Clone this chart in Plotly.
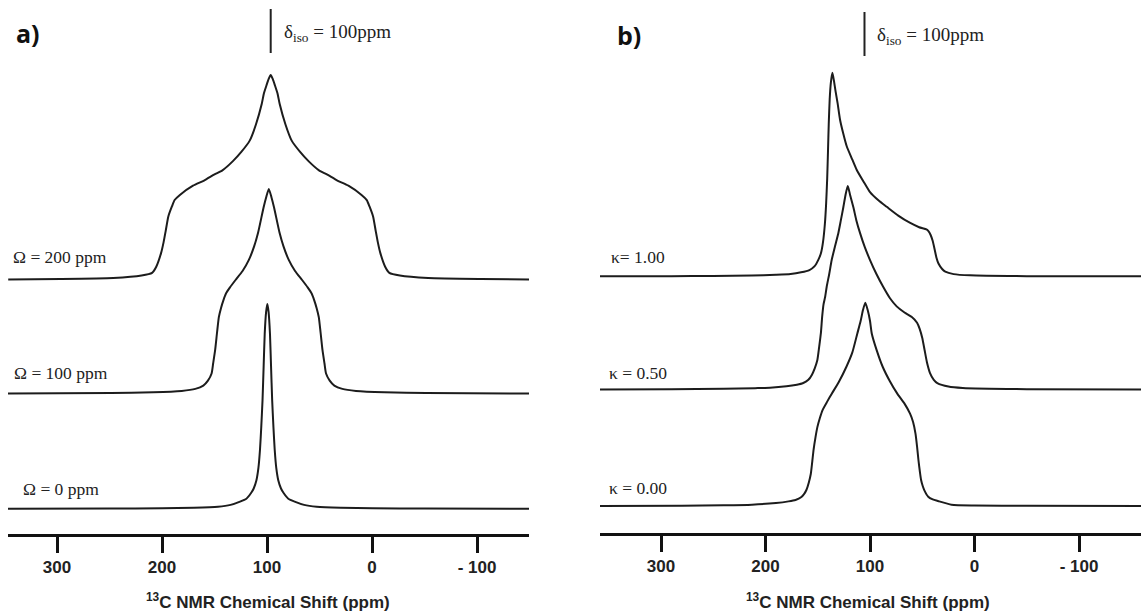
import plotly.graph_objects as go

W, H = 1141, 612

# ---------------- data (ppm, relative intensity %, peak = 100) ----------------
omega200_ppm = [346.5, 296.5, 246.5, 219.5, 209.5, 205.5, 201, 198.5, 196.5, 194, 190.5, 188, 183, 170.5,
                160, 150, 142.5, 132.5, 124.5, 116.5, 110.5, 105, 103, 100.5, 98.5, 96.5,
                94.5, 92.5, 90, 88, 82.5, 76.5, 68.5, 60.5, 50.5, 43, 33, 22.5, 10, 5, 2.5, -1,
                -3.5, -5.5, -8, -12.5, -16.5, -26.5, -53.5, -103.5, -149.5]
omega200_int = [0.3, 0.5, 1.0, 2.2, 3.5, 6.5, 13, 18.5, 24, 31, 36, 39, 41.5, 46,
                48.5, 51.5, 53.5, 58, 62.5, 68, 76, 86, 91, 95, 98, 100,
                98, 95, 91, 86, 76, 68, 62.5, 58, 53.5, 51.5, 48.5, 46, 41.5, 39, 36, 31,
                24, 18.5, 13, 6.5, 3.5, 2.2, 1.0, 0.5, 0.3]

omega100_ppm = [346.7, 248.3, 208.3, 181.3, 168.3, 160.7, 156.3, 152.8, 151.3, 149.4, 147.6, 145.9, 143.8,
                141.5, 139.1, 135.3, 130, 123.3, 117.3, 112.3, 108.6, 103.3, 100.8, 98.3,
                95.8, 93.3, 88, 84.3, 79.3, 73.3, 66.6, 61.3, 57.5, 55.1, 52.8, 50.7, 49, 47.2,
                45.3, 43.8, 40.3, 35.9, 28.3, 15.3, -11.7, -51.7, -149.5]
omega100_int = [0.2, 0.5, 0.8, 1.5, 2.5, 4.1, 6.5, 10, 15, 21.5, 30, 37.5, 42,
                45.8, 49, 52, 55.6, 60, 65.4, 72, 78.5, 91, 96, 100,
                96, 91, 78.5, 72, 65.4, 60, 55.6, 52, 49, 45.8, 42, 37.5, 30, 21.5,
                15, 10, 6.5, 4.1, 2.5, 1.5, 0.8, 0.5, 0.2]

omega0_ppm = [346.7, 249.7, 199.7, 169.7, 146.7, 134.7, 125.7, 119.7, 115.2, 112.7, 110.1, 108.2, 106.7,
              105.5, 104.3, 103.2, 102.2, 100.9, 99.7, 98.5, 97.2, 96.2, 95.1, 93.9, 92.7, 91.2,
              89.3, 86.7, 84.2, 79.7, 73.7, 64.7, 52.7, 29.7, -0.3, -50.3, -149.5]
omega0_int = [0.1, 0.2, 0.35, 0.6, 1.1, 2, 3.6, 5, 7.8, 10, 14, 20, 29,
              40, 53, 70, 85.5, 96, 100, 96, 85.5, 70, 53, 40, 29, 20,
              14, 10, 7.8, 5, 3.6, 2, 1.1, 0.6, 0.35, 0.2, 0.1]

kappa100_ppm = [358.4, 290, 250, 213, 190, 176, 166, 158, 153, 149.5, 147, 145, 143.2, 142, 141, 140.2,
                139.5, 138.6, 137.5, 136, 134.5, 133, 131, 128.7, 125.5, 122.3, 117, 112.8, 106, 100,
                92, 84, 73, 62, 53, 46, 44.3, 42, 40, 38, 36.5, 34.5, 31, 28, 20, 4.3, -50, -159.3]
kappa100_int = [0.2, 0.3, 0.4, 0.6, 1.0, 1.4, 2.2, 3.3, 5.2, 8.3, 11.5, 17, 26, 36, 48, 62,
                75, 87, 95, 100, 96, 91, 85, 77, 70, 64, 57.5, 52.5, 46.5, 41.5,
                37.5, 34.3, 30, 26.5, 24.3, 23.2, 22.5, 20.5, 17.5, 13, 9.5, 6.5, 3.8, 2.5, 1.3, 0.7, 0.3, 0.2]

kappa050_ppm = [358.4, 290, 240, 210, 195.7, 180, 170, 164.4, 159, 155.7, 153, 150.4, 148.7, 147, 145.8,
                144.5, 143, 141.5, 139, 136.7, 133.5, 130.3, 128, 125.5, 123.5, 121.3, 119, 116, 113,
                109.6, 105, 100, 94, 87.3, 80.9, 74.5, 67, 60, 55, 52.5, 50, 47.8, 45.5, 42.6, 39,
                35.6, 25, 11.3, -50, -159.3]
kappa050_int = [0.3, 0.4, 0.6, 0.9, 1.1, 1.8, 2.6, 3.3, 5, 7.4, 10.5, 14.7, 21, 28, 36,
                42, 45.5, 50.5, 57, 63.7, 70.5, 77, 83, 89.7, 95.5, 100, 95.5, 89.7, 83,
                77, 70, 63.7, 57, 50.5, 45, 41, 38, 35.8, 33, 30, 25.5, 19.6, 13.5, 8.3, 5,
                3.4, 1.7, 1.0, 0.4, 0.3]

kappa000_ppm = [358.4, 280, 240, 213, 190, 178, 171.3, 166, 163, 160.8, 158.5, 156.7, 155.3, 154, 152.2,
                150.4, 148, 145.3, 141, 136.6, 130, 122.6, 117, 112.2, 109, 106.7, 104.5, 102.3, 100,
                98.3, 93.5, 87.9, 81, 73.9, 67, 61.7, 58.8, 56.5, 55, 53.7, 52.4, 51.2, 49.5, 48,
                44.3, 40, 35, 22, 0, -50, -159.3]
kappa000_int = [0.3, 0.5, 0.7, 1.0, 1.8, 2.6, 3.3, 4.6, 6.3, 8.3, 12, 16, 22, 28, 34,
                39, 43.5, 47.5, 51.5, 55.4, 61, 68.6, 75.5, 84.8, 91, 96.5, 100, 96.5, 91,
                84.8, 76.5, 68.6, 61.5, 55.4, 50.5, 45.6, 41.5, 35.8, 29.5, 23, 17.5, 13.2, 10, 8,
                4.9, 3.6, 2.8, 1.0, 0.6, 0.4, 0.3]

omega_labels = ["Ω = 200 ppm", "Ω = 100 ppm", "Ω = 0 ppm"]
kappa_labels = ["κ= 1.00", "κ = 0.50", "κ = 0.00"]
tick_vals = [300, 200, 100, 0, -100]
tick_text = ["300", "200", "100", "0", "- 100"]
x_title = "<sup>13</sup>C NMR Chemical Shift (ppm)"
iso_text = "δ<sub>iso</sub> = 100ppm"
iso_pos_a, iso_pos_b = 96.5, 105.3

# ---------------- layout helpers ----------------
# stacking offsets (in intensity units) for each trace's baseline
offsets_a = [123.9, 68.3, 12.2]
offsets_b = [125.6, 70.1, 12.9]

LINE = dict(color="#1c1c1c", width=2, shape="spline", smoothing=0.55)

fig = go.Figure()
for ppm, inten, off in zip([omega200_ppm, omega100_ppm, omega0_ppm],
                           [omega200_int, omega100_int, omega0_int], offsets_a):
    fig.add_trace(go.Scatter(x=ppm, y=[v + off for v in inten], mode="lines", line=LINE,
                             xaxis="x", yaxis="y", showlegend=False, hoverinfo="skip"))
for ppm, inten, off in zip([kappa100_ppm, kappa050_ppm, kappa000_ppm],
                           [kappa100_int, kappa050_int, kappa000_int], offsets_b):
    fig.add_trace(go.Scatter(x=ppm, y=[v + off for v in inten], mode="lines", line=LINE,
                             xaxis="x2", yaxis="y2", showlegend=False, hoverinfo="skip"))

def py(ypx):
    return 1 - ypx / H

def px(xpx):
    return xpx / W

xcommon = dict(showline=True, linewidth=3, linecolor="#111", ticks="outside", ticklen=16,
               tickwidth=3, tickcolor="#111", tickvals=tick_vals, ticktext=tick_text,
               tickfont=dict(family="Liberation Sans", size=17, color="#222", weight="bold"),
               showgrid=False, zeroline=False, fixedrange=True)

fig.update_layout(
    width=W, height=H, margin=dict(l=0, r=0, t=0, b=0),
    paper_bgcolor="white", plot_bgcolor="white",
    xaxis=dict(domain=[px(8), px(529)], range=[346.7, -149.5], anchor="y", **xcommon),
    xaxis2=dict(domain=[px(600), 1.0], range=[358.4, -159.3], anchor="y2", **xcommon),
    yaxis=dict(domain=[py(534), 1], range=[0, 534 / 2.05], visible=False, fixedrange=True),
    yaxis2=dict(domain=[py(533), 1], range=[0, 533 / 2.04], visible=False, fixedrange=True),
)

ann = []
serif = dict(family="Liberation Serif", size=17.5, color="#222")
for lab, (xx, yy) in zip(omega_labels, [(11, 257), (12, 373), (21, 489)]):
    ann.append(dict(text=lab, x=px(xx), y=py(yy), xref="paper", yref="paper",
                    xanchor="left", yanchor="middle", showarrow=False, font=serif))
for lab, (xx, yy) in zip(kappa_labels, [(609, 257), (607, 373), (607, 488)]):
    ann.append(dict(text=lab, x=px(xx), y=py(yy), xref="paper", yref="paper",
                    xanchor="left", yanchor="middle", showarrow=False, font=serif))
for lab, (xx, yy) in zip(["a)", "b)"], [(14, 33), (615, 35)]):
    ann.append(dict(text=lab, x=px(xx), y=py(yy), xref="paper", yref="paper",
                    xanchor="left", yanchor="middle", showarrow=False,
                    font=dict(family="Open Sans", size=25, color="#111", weight="bold")))
for xx, yy in [(282, 33), (875, 36)]:
    ann.append(dict(text=iso_text, x=px(xx), y=py(yy), xref="paper", yref="paper",
                    xanchor="left", yanchor="middle", showarrow=False,
                    font=dict(family="Liberation Serif", size=19, color="#222")))
for xx in [268, 868]:
    ann.append(dict(text=x_title, x=px(xx), y=py(601), xref="paper", yref="paper",
                    xanchor="center", yanchor="middle", showarrow=False,
                    font=dict(family="Liberation Sans", size=17, color="#222", weight="bold")))
fig.update_layout(annotations=ann)

fig.add_shape(type="line", xref="x", yref="paper", x0=iso_pos_a, x1=iso_pos_a,
              y0=py(53), y1=py(9), line=dict(color="#222", width=2))
fig.add_shape(type="line", xref="x2", yref="paper", x0=iso_pos_b, x1=iso_pos_b,
              y0=py(56), y1=py(12), line=dict(color="#222", width=2))

fig.write_html("out.html", config={"displayModeBar": False},
               post_script="document.body.style.margin='0';document.body.style.overflow='hidden';")
